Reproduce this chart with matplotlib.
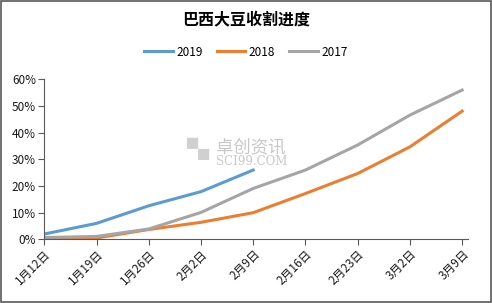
import numpy as np
import matplotlib
matplotlib.use("Agg")
import matplotlib.pyplot as plt
from matplotlib.patches import Rectangle

plt.rcParams['font.family'] = ['Noto Sans CJK SC', 'DejaVu Sans']

dates = ['1月12日', '1月19日', '1月26日', '2月2日', '2月9日',
         '2月16日', '2月23日', '3月2日', '3月9日']
y2019 = [2.0, 6.0, 12.6, 17.9, 26.0]
y2018 = [0.3, 0.5, 3.7, 6.4, 10.0, 17.2, 24.7, 34.7, 48.1]
y2017 = [0.7, 1.1, 3.9, 10.1, 19.1, 26.0, 35.4, 46.6, 56.0]

fig = plt.figure(figsize=(4.92, 3.03), dpi=100)
ax = fig.add_axes([0.09, 0.21, 0.861, 0.528])

x = np.arange(len(dates))
ax.plot(x[:len(y2019)], np.array(y2019) / 100, color='#5B9BD5', lw=2.2, label='2019')
ax.plot(x, np.array(y2018) / 100, color='#ED7D31', lw=2.2, label='2018')
ax.plot(x, np.array(y2017) / 100, color='#A5A5A5', lw=2.2, label='2017')

ax.set_xlim(0, 8.11)
ax.set_ylim(0, 0.6)
ax.set_xticks(x)
ax.set_xticklabels(dates, rotation=45, ha='right', rotation_mode='anchor', fontsize=8.5, color='#1a1a1a')
ax.set_yticks(np.arange(0, 0.61, 0.1))
ax.set_yticklabels([f'{int(v)}%' for v in np.arange(0, 61, 10)], fontsize=8.5, color='#1a1a1a')
ax.tick_params(axis='both', direction='out', length=4, color='#595959', width=0.8, pad=2)
for s in ['top', 'right']:
    ax.spines[s].set_visible(False)
for s in ['left', 'bottom']:
    ax.spines[s].set_color('#595959')
    ax.spines[s].set_linewidth(0.8)

fig.text(0.5, 0.935, '巴西大豆收割进度', ha='center', va='center', fontsize=11.5, fontweight='bold')
fig.legend(loc='center', bbox_to_anchor=(0.5, 0.828), ncol=3, frameon=False, fontsize=8.5,
           handlelength=2.4, columnspacing=1.2, handletextpad=0.3)

# watermark
fig.text(0.381, 0.503, '▚', fontsize=16, color='#D0D0D0', ha='left', va='center')
fig.text(0.440, 0.515, '卓创资讯', fontsize=12.5, color='#C8C8C8', ha='left', va='center')
fig.text(0.440, 0.468, 'SCI99.COM', fontsize=8.5, color='#C8C8C8', ha='left', va='center', family='serif')

fig.patches.append(Rectangle((0.002, 0.003), 0.996, 0.994, transform=fig.transFigure,
                             fill=False, edgecolor='#595959', lw=1.2))

fig.savefig('out.png', dpi=100)
